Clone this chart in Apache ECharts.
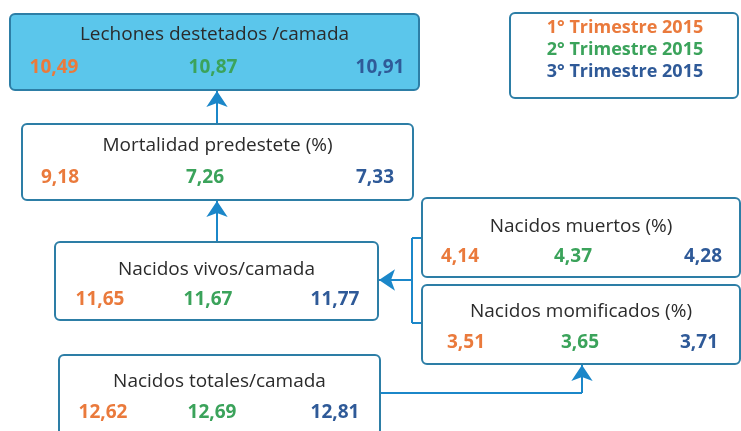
<!DOCTYPE html>
<html>
	<head>
		<meta charset="utf-8" />
		<title>Indicadores</title>
		<style type="text/css">
			body,
			html,
			#main {
				width: 100%;
				height: 100%;
				overflow: hidden;
				margin: 0;
				background: #fff;
			}
		</style>
	</head>
	<body>
		<div id="main"></div>
		<script src="https://cdn.jsdelivr.net/npm/echarts@6/dist/echarts.min.js"></script>
		<script>
			// datos
			var periods = ['1° Trimestre 2015', '2° Trimestre 2015', '3° Trimestre 2015'];
			var indicators = [
				'Lechones destetados /camada',
				'Mortalidad predestete (%)',
				'Nacidos vivos/camada',
				'Nacidos totales/camada',
				'Nacidos muertos (%)',
				'Nacidos momificados (%)'
			];
			var q1 = [10.49, 9.18, 11.65, 12.62, 4.14, 3.51];
			var q2 = [10.87, 7.26, 11.67, 12.69, 4.37, 3.65];
			var q3 = [10.91, 7.33, 11.77, 12.81, 4.28, 3.71];

			// posicion de cada caja: x, y, ancho, alto, y titulo, y valores, x de los 3 valores
			var layout = [
				[10, 14, 409, 76, 35, 68, [54, 213, 380]],
				[22, 124, 391, 76, 146, 178, [60, 205, 375]],
				[55, 242, 323, 78, 270, 300, [100, 208, 335]],
				[59, 355, 321, 80, 382, 413, [103, 212, 335]],
				[422, 198, 318, 79, 227, 257, [460, 573, 703]],
				[422, 285, 318, 79, 312, 343, [466, 580, 699]]
			];
			var legendBox = [510, 13, 228, 85, [28, 50, 72], 625];

			// conectores (el ultimo tramo lleva la flecha)
			var arrows = [
				[[217, 124], [217, 91]],
				[[217, 242], [217, 201]],
				[[412, 280], [379, 280]],
				[[380, 393], [582, 393], [582, 365]]
			];
			var bracket = [[422, 238], [412, 238], [412, 323], [422, 323]];

			var colors = ['#ea7a3c', '#3ba35b', '#2f5a98'];
			var border = '#2d7ea6';
			var lineColor = '#1b87c9';

			function fmt(v) {
				return v.toFixed(2).replace('.', ',');
			}

			// tramos sueltos y tramos con flecha
			var plainSegs = [];
			var arrowSegs = [];
			arrows.forEach(function (c) {
				for (var i = 0; i < c.length - 1; i++) {
					var seg = { coords: [c[i], c[i + 1]] };
					if (i === c.length - 2) arrowSegs.push(seg);
					else plainSegs.push(seg);
				}
			});
			for (var i = 0; i < bracket.length - 1; i++) {
				plainSegs.push({ coords: [bracket[i], bracket[i + 1]] });
			}

			var dom = document.getElementById('main');
			var myChart = echarts.init(dom);

			var option = {
				animation: false,
				grid: { left: 0, right: 0, top: 0, bottom: 0 },
				xAxis: { type: 'value', min: 0, max: 741, show: false },
				yAxis: { type: 'value', min: 0, max: 431, inverse: true, show: false },
				series: [
					{
						type: 'lines',
						coordinateSystem: 'cartesian2d',
						symbol: ['none', 'arrow'],
						symbolSize: 16,
						lineStyle: { color: lineColor, width: 2, opacity: 1 },
						itemStyle: { color: lineColor },
						data: arrowSegs,
						z: 1
					},
					{
						type: 'lines',
						coordinateSystem: 'cartesian2d',
						symbol: 'none',
						lineStyle: { color: lineColor, width: 2, opacity: 1 },
						data: plainSegs,
						z: 1
					},
					{
						type: 'custom',
						coordinateSystem: 'cartesian2d',
						data: indicators.map(function (n, i) {
							return [i];
						}),
						z: 3,
						renderItem: function (params, api) {
							var i = api.value(0);
							var L = layout[i];
							var p0 = api.coord([L[0], L[1]]);
							var p1 = api.coord([L[0] + L[2], L[1] + L[3]]);
							var children = [
								{
									type: 'rect',
									shape: { x: p0[0], y: p0[1], width: p1[0] - p0[0], height: p1[1] - p0[1], r: 5 },
									style: { fill: i === 0 ? '#5bc6eb' : '#fff', stroke: border, lineWidth: 2 }
								},
								{
									type: 'text',
									x: (p0[0] + p1[0]) / 2,
									y: api.coord([0, L[4]])[1],
									style: {
										text: indicators[i],
										fill: '#2b2b2b',
										font: '19px "Open Sans"',
										align: 'center',
										verticalAlign: 'middle'
									}
								}
							];
							[q1, q2, q3].forEach(function (q, k) {
								var pt = api.coord([L[6][k], L[5]]);
								children.push({
									type: 'text',
									x: pt[0],
									y: pt[1],
									style: {
										text: fmt(q[i]),
										fill: colors[k],
										font: 'bold 19px "Open Sans"',
										align: 'center',
										verticalAlign: 'middle'
									}
								});
							});
							return { type: 'group', children: children };
						}
					},
					{
						// leyenda de trimestres
						type: 'custom',
						coordinateSystem: 'cartesian2d',
						data: [[0]],
						z: 3,
						renderItem: function (params, api) {
							var p0 = api.coord([legendBox[0], legendBox[1]]);
							var p1 = api.coord([legendBox[0] + legendBox[2], legendBox[1] + legendBox[3]]);
							var children = [
								{
									type: 'rect',
									shape: { x: p0[0], y: p0[1], width: p1[0] - p0[0], height: p1[1] - p0[1], r: 5 },
									style: { fill: '#fff', stroke: border, lineWidth: 2 }
								}
							];
							periods.forEach(function (t, k) {
								var pt = api.coord([legendBox[5], legendBox[4][k]]);
								children.push({
									type: 'text',
									x: pt[0],
									y: pt[1],
									style: {
										text: t,
										fill: colors[k],
										font: 'bold 18px "Open Sans"',
										align: 'center',
										verticalAlign: 'middle'
									}
								});
							});
							return { type: 'group', children: children };
						}
					}
				]
			};
			myChart.setOption(option);
		</script>
	</body>
</html>
